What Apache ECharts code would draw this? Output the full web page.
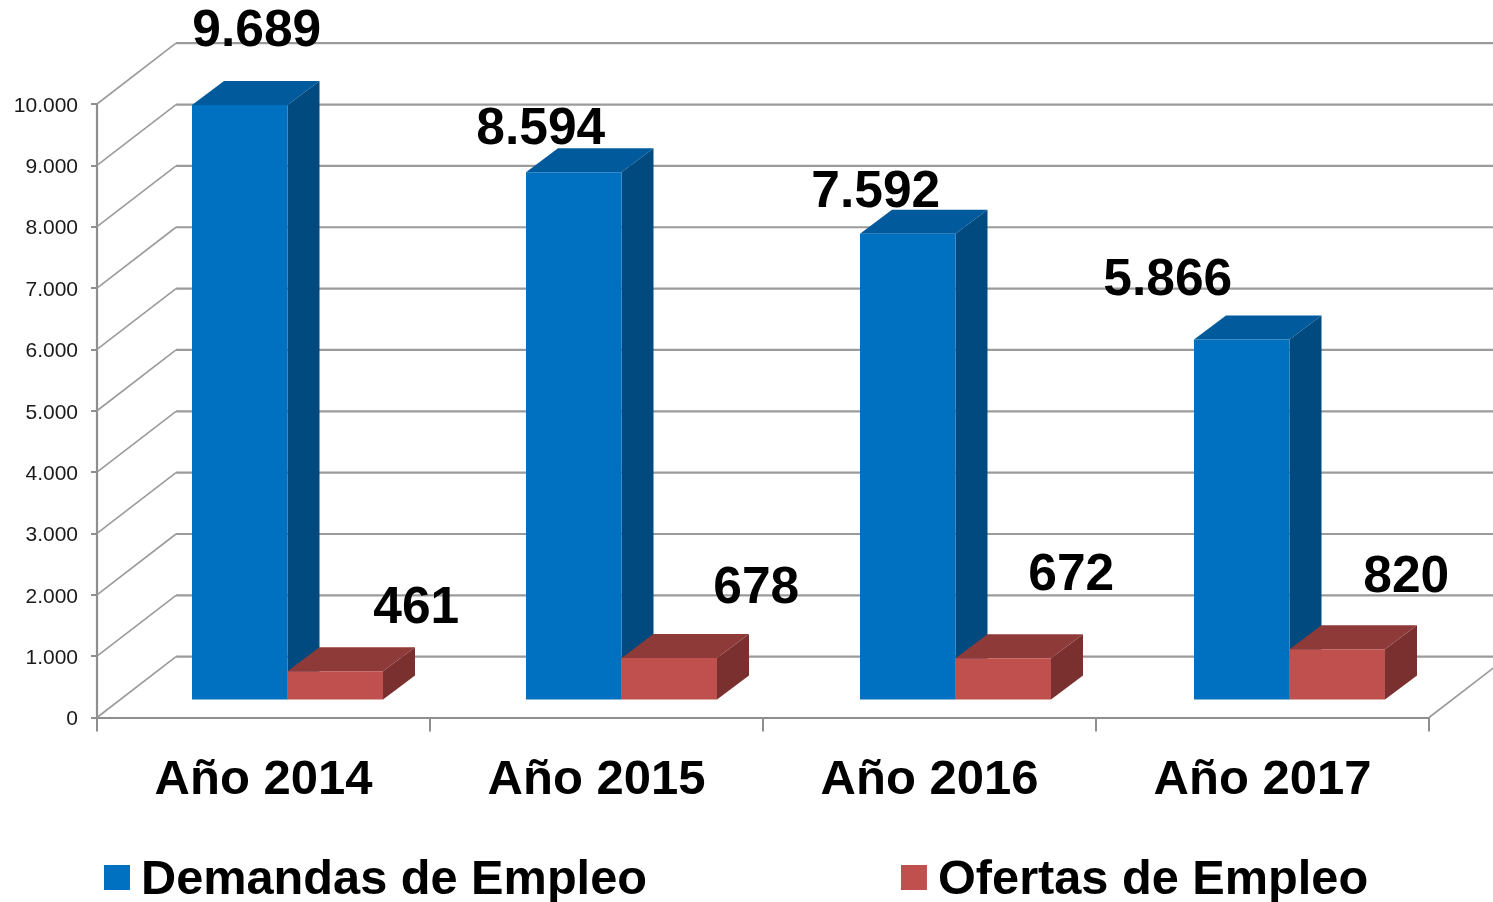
<!DOCTYPE html>
<html><head><meta charset="utf-8">
<style>html,body{margin:0;padding:0;background:#fff}#c{width:1493px;height:902px}</style>
<script src="https://cdn.jsdelivr.net/npm/echarts@6/dist/echarts.min.js"></script>
</head><body><div id="c"></div>
<script>
const categories = ['Año 2014', 'Año 2015', 'Año 2016', 'Año 2017'];
const demandas = [9689, 8594, 7592, 5866];
const ofertas = [461, 678, 672, 820];
const tickValues = [0, 1000, 2000, 3000, 4000, 5000, 6000, 7000, 8000, 9000, 10000];
// hand-placed label offsets from each bar's top centre, as in the reference
const demandasLabelOffset = [[17, -73], [-33, -42], [-32, -41], [-74, -59]];
const ofertasLabelOffset = [[81, -62], [87, -69], [68, -82], [69, -71]];

const FONT = '"Liberation Sans", Arial, sans-serif';
const WALL = [79, -60.8], BAR_SHIFT = [24, -18], BAR_DEPTH = [32, -24], BAR_RATIO = 95.5 / 333, BAR_DRIFT = 1;
const fmt = v => String(v).replace(/\B(?=(\d{3})+$)/g, '.');

function barRenderer(side, colors, offsets) {
  return function (params, api) {
    const i = api.value(0), v = api.value(1);
    const base = api.coord([i, 0]), top = api.coord([i, v]);
    const w = api.size([1, 0])[0] * BAR_RATIO;
    const cx = base[0] + BAR_SHIFT[0] + i * BAR_DRIFT;
    const x0 = side < 0 ? cx - w : cx, x1 = x0 + w;
    const yb = base[1] + BAR_SHIFT[1], yt = top[1] + BAR_SHIFT[1];
    const [dx, dy] = BAR_DEPTH, off = offsets[params.dataIndex];
    const poly = (points, fill) => ({ type: 'polygon', shape: { points }, style: { fill } });
    return { type: 'group', children: [
      poly([[x1, yb], [x1 + dx, yb + dy], [x1 + dx, yt + dy], [x1, yt]], colors[2]),
      poly([[x0, yt], [x0 + dx, yt + dy], [x1 + dx, yt + dy], [x1, yt]], colors[1]),
      poly([[x0, yb], [x1, yb], [x1, yt], [x0, yt]], colors[0]),
      { type: 'text', z2: 50, style: { x: (x0 + x1) / 2 + off[0], y: yt + off[1], text: fmt(v),
        align: 'center', verticalAlign: 'middle', fill: '#000', font: 'bold 51.5px ' + FONT } }
    ] };
  };
}

function wallRenderer(params, api) {
  const v = api.value(1), y = api.coord([0, v])[1];
  const sys = params.coordSys, x = sys.x, right = sys.x + sys.width;
  const line = (p, width) => ({ type: 'polyline', shape: { points: p },
    style: { fill: 'none', stroke: '#9b9b9b', lineWidth: width } });
  const bx = x + WALL[0], by = y + WALL[1];
  const kids = [line([[x, y], [bx, by]], 1.6), line([[bx, by], [1493, by]], 2.2)];
  if (v === 0) kids.push(line([[right, y], [right + WALL[0], y + WALL[1]]], 1.6));
  return { type: 'group', children: kids };
}

const chart = echarts.init(document.getElementById('c'), null, { renderer: 'canvas' });
chart.setOption({
  animation: false,
  backgroundColor: '#fff',
  grid: { left: 97, right: 64, top: 104, height: 613.5, containLabel: false },
  xAxis: { type: 'category', data: categories, boundaryGap: true,
    axisLine: { lineStyle: { color: '#8e8e8e', width: 2.2 } },
    axisTick: { show: true, alignWithLabel: false, length: 14, lineStyle: { color: '#8e8e8e', width: 2 } },
    axisLabel: { margin: 38, color: '#000', fontFamily: FONT, fontWeight: 'bold', fontSize: 49, interval: 0 },
    splitLine: { show: false } },
  yAxis: { type: 'value', min: 0, max: 10000, interval: 1000,
    axisLine: { show: true, lineStyle: { color: '#8e8e8e', width: 2.2 } },
    axisTick: { show: true, length: 6, lineStyle: { color: '#8e8e8e', width: 2 } },
    axisLabel: { margin: 19, formatter: v => '{a|' + fmt(v) + '}',
      rich: { a: { color: '#1a1a1a', fontFamily: FONT, fontSize: 21, padding: [4, 0, 0, 0] } } },
    splitLine: { show: false } },
  legend: { show: true, left: 99, top: 851, itemWidth: 26, itemHeight: 25, itemGap: 254,
    icon: 'rect', data: ['Demandas de Empleo', 'Ofertas de Empleo'],
    formatter: n => '{a|' + n + '}',
    textStyle: { rich: { a: { color: '#000', fontFamily: FONT, fontWeight: 'bold', fontSize: 48.7, padding: [6, 0, 0, 6] } } } },
  series: [
    { type: 'custom', name: 'walls', silent: true, clip: false, z: 1, renderItem: wallRenderer,
      data: tickValues.map(t => [0, t]) },
    { type: 'custom', name: 'Demandas de Empleo', clip: false, z: 2, itemStyle: { color: '#0070C0' },
      renderItem: barRenderer(-1, ['#0070C0', '#005A9B', '#004A80'], demandasLabelOffset),
      data: demandas.map((v, i) => [i, v]) },
    { type: 'custom', name: 'Ofertas de Empleo', clip: false, z: 3, itemStyle: { color: '#C0504D' },
      renderItem: barRenderer(1, ['#C0504D', '#8E3A38', '#7A302F'], ofertasLabelOffset),
      data: ofertas.map((v, i) => [i, v]) }
  ]
});
</script></body></html>
